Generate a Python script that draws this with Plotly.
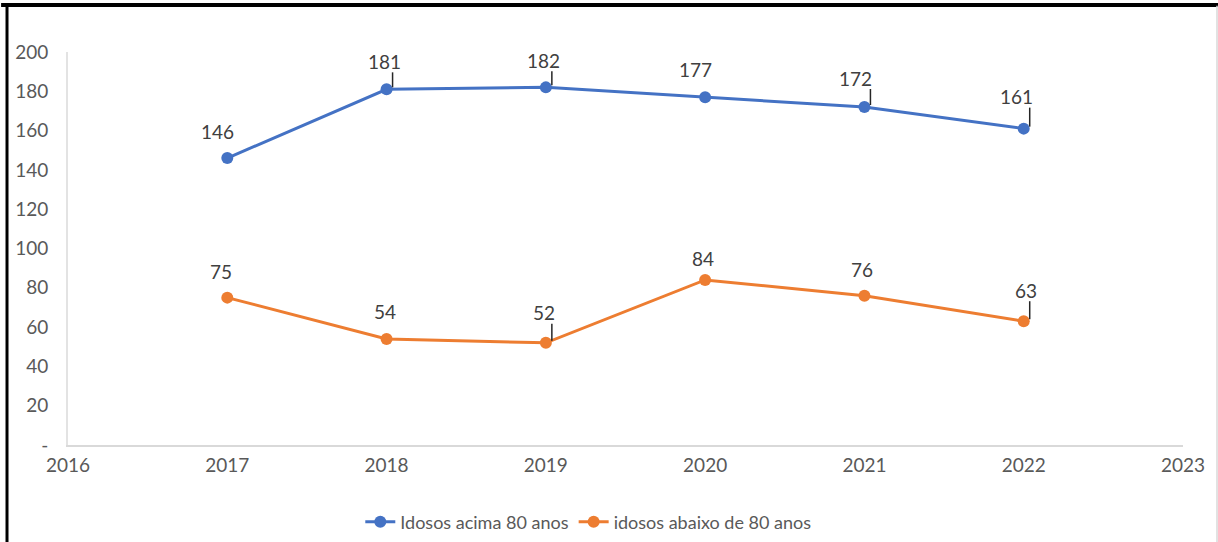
import plotly.graph_objects as go

# Chart data
years = [2017, 2018, 2019, 2020, 2021, 2022]
acima_80 = [146, 181, 182, 177, 172, 161]
abaixo_80 = [75, 54, 52, 84, 76, 63]
series_names = ["Idosos acima 80 anos", "idosos abaixo de 80 anos"]
y_tick_vals = [0, 20, 40, 60, 80, 100, 120, 140, 160, 180, 200]
y_tick_text = ["-", "20", "40", "60", "80", "100", "120", "140", "160", "180", "200"]
x_tick_vals = [2016, 2017, 2018, 2019, 2020, 2021, 2022, 2023]

BLUE = "#4472C4"
ORANGE = "#ED7D31"
FONT = "Lato, Liberation Sans, Arial, sans-serif"
LABEL_COLOR = "#404040"
TICK_COLOR = "#595959"

# Per-label nudges (pixels) and which labels carry a leader line
blue_dx = [-10, -2, -2, -10, -9, -7]
blue_dy = [27, 28, 27, 28, 29, 32]
blue_leader = [False, True, True, False, True, True]
orange_dx = [-6, -2, -2, -2, -2, 2]
orange_dy = [26, 27, 30, 21, 26, 31]
orange_leader = [False, False, True, False, False, True]

fig = go.Figure()
for vals, name, color in [(acima_80, series_names[0], BLUE), (abaixo_80, series_names[1], ORANGE)]:
    fig.add_trace(go.Scatter(
        x=years, y=vals, name=name, mode="lines+markers",
        line=dict(color=color, width=3),
        marker=dict(color=color, size=12),
    ))

annotations = []
shapes = []
for vals, dxs, dys, leaders in [
    (acima_80, blue_dx, blue_dy, blue_leader),
    (abaixo_80, orange_dx, orange_dy, orange_leader),
]:
    for x, v, dx, dy, lead in zip(years, vals, dxs, dys, leaders):
        annotations.append(dict(
            x=x, y=v, xref="x", yref="y", text=str(v), showarrow=False,
            xshift=dx, yshift=dy,
            font=dict(family=FONT, size=19, color=LABEL_COLOR),
        ))
        if lead:
            shapes.append(dict(
                type="line", xref="x", yref="y",
                xsizemode="pixel", ysizemode="pixel",
                xanchor=x, yanchor=v,
                x0=6, x1=6, y0=2, y1=dy - 11,
                line=dict(color="#262626", width=1.5),
            ))

# Frame around the chart
shapes += [
    dict(type="line", xref="paper", yref="paper", x0=-0.0547, x1=-0.0547, y0=-0.3, y1=1.125,
         line=dict(color="black", width=3)),
    dict(type="line", xref="paper", yref="paper", x0=-0.06, x1=1.04, y0=1.1196, y1=1.1196,
         line=dict(color="black", width=4)),
    dict(type="line", xref="paper", yref="paper", x0=1.0305, x1=1.0305, y0=-0.3, y1=1.118,
         line=dict(color="#d9d9d9", width=1.5)),
]

fig.update_layout(
    width=1218, height=542,
    margin=dict(l=68, r=35, t=52, b=97, autoexpand=False),
    paper_bgcolor="white", plot_bgcolor="white",
    font=dict(family=FONT, size=18, color=TICK_COLOR),
    showlegend=True,
    legend=dict(
        orientation="h", xref="container", yref="container",
        x=0.483, xanchor="center", y=0.037, yanchor="middle",
        font=dict(family=FONT, size=18, color=TICK_COLOR),
        bgcolor="rgba(0,0,0,0)",
    ),
    annotations=annotations,
    shapes=shapes,
)
fig.update_xaxes(
    range=[2016, 2023], tickvals=x_tick_vals, showgrid=False, zeroline=False,
    showline=True, linecolor="#d9d9d9", linewidth=2, automargin=False,
    ticks="outside", ticklen=2, tickcolor="rgba(0,0,0,0)",
    tickfont=dict(family=FONT, size=19, color=TICK_COLOR),
)
fig.update_yaxes(
    range=[0, 200], tickvals=y_tick_vals, ticktext=y_tick_text, showgrid=False, zeroline=False,
    showline=True, linecolor="#e3e3e3", linewidth=2, automargin=False,
    ticks="outside", ticklen=14, tickcolor="rgba(0,0,0,0)",
    tickfont=dict(family=FONT, size=19, color=TICK_COLOR),
)

fig.write_html("out.html")
